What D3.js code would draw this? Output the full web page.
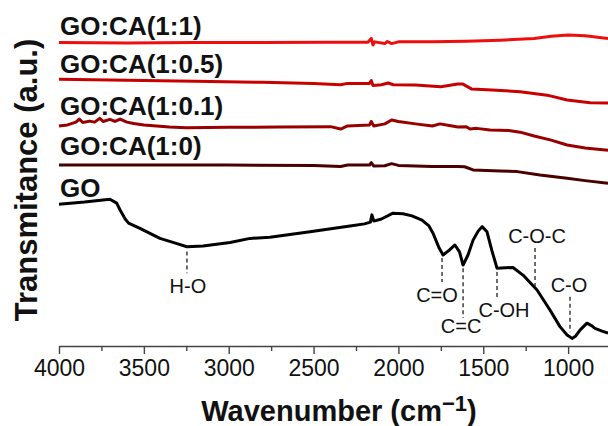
<!DOCTYPE html>
<html>
<head>
<meta charset="utf-8">
<script src="https://cdn.jsdelivr.net/npm/d3@7"></script>
<style>
  body { margin: 0; background: #fff; }
  svg { display: block; font-family: "Liberation Sans", Arial, sans-serif; }
</style>
</head>
<body>
<svg id="chart" width="608" height="426"></svg>
<script>
// FTIR spectra, [wavenumber (cm-1), transmittance (a.u.)]
const seriesLabels = ["GO:CA(1:1)", "GO:CA(1:0.5)", "GO:CA(1:0.1)", "GO:CA(1:0)", "GO"];
const seriesColors = ["#f00d0d", "#c80000", "#980000", "#4a0000", "#000000"];

const ca11 = [
  [4000, 87.7], [3600, 87.6], [3200, 87.7], [2800, 87.7], [2400, 87.8], [2180, 87.8],
  [2160, 88.9], [2150, 87.0], [2140, 87.9], [2080, 87.4], [2065, 88.0], [2040, 87.4],
  [2000, 87.9], [1800, 87.9], [1600, 88.1], [1400, 88.4], [1200, 88.9], [1100, 89.5],
  [1000, 89.9], [900, 89.7], [765, 88.9]
];
const ca105 = [
  [4000, 77.1], [3600, 76.8], [3200, 76.5], [2800, 76.2], [2500, 75.9], [2340, 75.5],
  [2300, 75.9], [2170, 75.9], [2160, 76.7], [2150, 75.3], [2100, 75.5], [2060, 76.0],
  [2030, 75.5], [1900, 75.4], [1750, 74.9], [1650, 75.7], [1620, 75.7], [1570, 74.3],
  [1450, 74.0], [1283, 73.5], [1124, 72.5], [1006, 71.1], [870, 70.3], [765, 70.2]
];
const ca101 = [
  [4000, 63.6], [3950, 63.9], [3900, 64.7], [3880, 65.6], [3860, 64.6], [3820, 65.0],
  [3790, 64.7], [3760, 65.8], [3740, 64.9], [3700, 65.5], [3670, 64.9], [3640, 65.6],
  [3600, 64.7], [3560, 64.3], [3500, 63.9], [3350, 63.3], [3250, 63.1], [3000, 63.2],
  [2700, 63.3], [2400, 63.4], [2340, 62.7], [2300, 63.6], [2170, 63.9], [2160, 64.9],
  [2145, 63.6], [2080, 64.2], [2040, 65.3], [2000, 64.9], [1900, 64.2], [1800, 63.6],
  [1755, 64.2], [1700, 63.7], [1650, 63.3], [1600, 63.4], [1578, 62.7], [1540, 62.9],
  [1460, 62.4], [1350, 62.3], [1283, 61.8], [1200, 60.7], [1100, 59.5], [1006, 58.1],
  [900, 57.2], [765, 56.6]
];
const ca10 = [
  [4000, 52.3], [3500, 52.3], [3000, 52.3], [2500, 52.2], [2340, 51.9], [2300, 52.3],
  [2170, 52.3], [2160, 53.0], [2145, 52.0], [2080, 52.1], [2040, 52.7], [2000, 52.2],
  [1800, 51.9], [1650, 51.9], [1610, 51.8], [1560, 50.9], [1400, 50.6], [1300, 50.4],
  [1166, 49.4], [1006, 48.5], [900, 47.8], [765, 47.0]
];
const go = [
  [4000, 41.0], [3850, 41.6], [3700, 42.4], [3660, 41.3], [3640, 39.3], [3610, 36.7],
  [3590, 35.5], [3523, 34.0], [3405, 31.1], [3300, 29.5], [3246, 28.7], [3151, 28.9],
  [2992, 29.9], [2874, 31.1], [2757, 31.4], [2521, 33.0], [2285, 34.7], [2200, 35.3],
  [2165, 35.8], [2156, 37.9], [2145, 36.1], [2100, 36.7], [2032, 38.4], [1973, 38.2],
  [1920, 37.6], [1861, 36.4], [1820, 34.7], [1796, 32.6], [1760, 28.3], [1737, 26.3],
  [1700, 27.7], [1667, 29.2], [1640, 27.2], [1619, 23.4], [1590, 26.3], [1560, 30.6],
  [1530, 33.2], [1507, 34.5], [1478, 33.0], [1450, 27.7], [1419, 22.5], [1325, 22.7],
  [1266, 20.5], [1183, 16.2], [1107, 10.4], [1048, 5.6], [1006, 3.2], [977, 2.2],
  [955, 2.9], [930, 4.6], [889, 6.6], [860, 5.8], [842, 5.1], [800, 4.3], [765, 3.7]
];
const seriesData = [ca11, ca105, ca101, ca10, go];

// band assignments on the GO spectrum
const bandLabels = ["H-O", "C=O", "C=C", "C-OH", "C-O-C", "C-O"];
const bandWavenumbers = [3246, 1743, 1619, 1419, 1195, 989];

const xTicks = [4000, 3500, 3000, 2500, 2000, 1500, 1000];
const xMinorTicks = [3750, 3250, 2750, 2250, 1750, 1250];

// layout: [dash top, dash bottom, text baseline] in y units, text dx in px
const bandLayout = [
  [27.3, 21.0, 15.3, 1],
  [25.4, 18.5, 12.7, -5],
  [22.5, 8.1, 3.8, -2],
  [21.4, 13.9, 8.4, 7],
  [28.3, 17.1, 29.8, 2],
  [14.2, 4.0, 15.6, -1]
];
// series label baseline offset above the curve start, px
const labelOffsets = [7.7, 6.3, 11, 10, 7];

const svg = d3.select("#chart");
const x = d3.scaleLinear().domain([4000, 765]).range([59, 608]);
const y = d3.scaleLinear().domain([0, 100]).range([346, 0]);

// x axis
const axis = svg.append("g")
  .attr("transform", "translate(0,346)")
  .call(d3.axisBottom(x).tickValues(xTicks).tickSize(8).tickSizeOuter(0).tickPadding(6).tickFormat(d3.format("d")));
axis.select(".domain").attr("stroke", "#444").attr("stroke-width", 1.4);
axis.selectAll(".tick line").attr("stroke", "#444").attr("stroke-width", 1.4);
axis.selectAll(".tick text")
  .attr("font-size", 23)
  .attr("font-family", "'Liberation Sans', Arial, sans-serif")
  .attr("fill", "#111");

const minor = svg.append("g")
  .attr("transform", "translate(0,346)")
  .call(d3.axisBottom(x).tickValues(xMinorTicks).tickSize(5).tickSizeOuter(0).tickFormat(""));
minor.select(".domain").remove();
minor.selectAll(".tick line").attr("stroke", "#444").attr("stroke-width", 1.4);

// spectra
const line = d3.line().x(d => x(d[0])).y(d => y(d[1]));
svg.append("g").selectAll("path")
  .data(seriesData)
  .join("path")
  .attr("d", line)
  .attr("fill", "none")
  .attr("stroke", (d, i) => seriesColors[i])
  .attr("stroke-width", 3)
  .attr("stroke-linejoin", "round");

// series labels
svg.append("g").selectAll("text")
  .data(seriesLabels)
  .join("text")
  .attr("x", x(4000) + 1)
  .attr("y", (d, i) => y(seriesData[i][0][1]) - labelOffsets[i])
  .attr("font-size", 26)
  .attr("font-weight", "bold")
  .attr("fill", "#111")
  .text(d => d);

// band markers
const bands = svg.append("g");
bandLabels.forEach((lab, i) => {
  const bx = x(bandWavenumbers[i]);
  const [t, b, ty, dx] = bandLayout[i];
  bands.append("line")
    .attr("x1", bx).attr("x2", bx)
    .attr("y1", y(t)).attr("y2", y(b))
    .attr("stroke", "#222")
    .attr("stroke-width", 1.3)
    .attr("stroke-dasharray", "4,3");
  bands.append("text")
    .attr("x", bx + dx)
    .attr("y", y(ty))
    .attr("text-anchor", "middle")
    .attr("font-size", 20)
    .attr("fill", "#111")
    .text(lab);
});

// axis titles
const xt = svg.append("text")
  .attr("x", 339)
  .attr("y", 421)
  .attr("text-anchor", "middle")
  .attr("font-size", 29)
  .attr("font-weight", "bold")
  .attr("fill", "#111");
xt.append("tspan").text("Wavenumber (cm");
xt.append("tspan").attr("font-size", 22).attr("dy", -10).text("\u22121");
xt.append("tspan").attr("dy", 10).text(")");

svg.append("text")
  .attr("transform", "translate(37,180) rotate(-90)")
  .attr("text-anchor", "middle")
  .attr("font-size", 31)
  .attr("font-weight", "bold")
  .attr("fill", "#111")
  .text("Transmitance (a.u.)");
</script>
</body>
</html>
